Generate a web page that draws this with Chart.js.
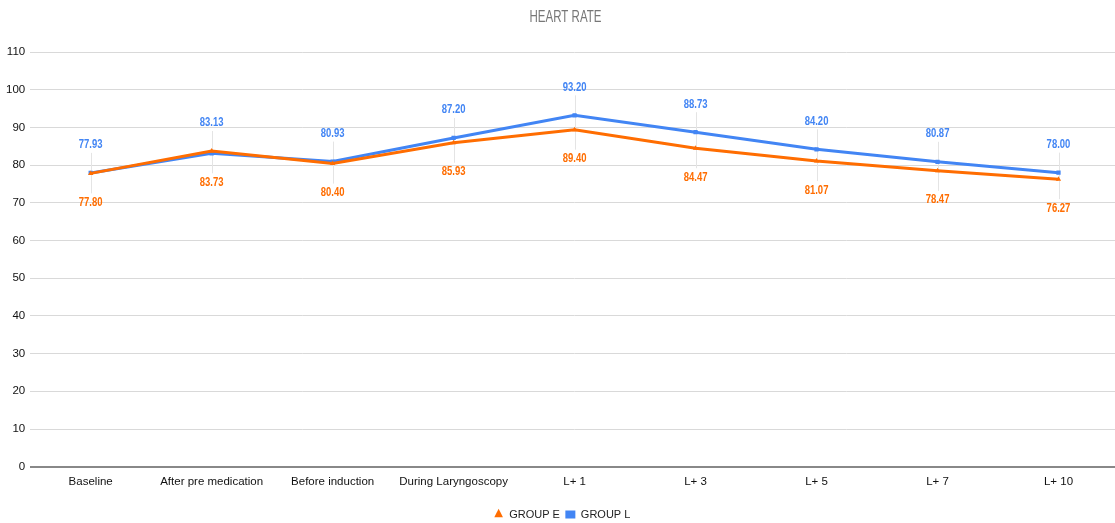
<!DOCTYPE html>
<html>
<head>
<meta charset="utf-8">
<script src="https://cdn.jsdelivr.net/npm/chart.js@4/dist/chart.umd.min.js"></script>
<style>
  html, body { margin: 0; padding: 0; background: #fff; overflow: hidden; }
  #wrap { width: 1123px; height: 523px; position: relative; }
</style>
</head>
<body>
<div id="wrap"><canvas id="c"></canvas></div>
<script>
const categories = ['Baseline', 'After pre medication', 'Before induction', 'During Laryngoscopy', 'L+ 1', 'L+ 3', 'L+ 5', 'L+ 7', 'L+ 10'];
const groupE = [77.80, 83.73, 80.40, 85.93, 89.40, 84.47, 81.07, 78.47, 76.27];
const groupL = [77.93, 83.13, 80.93, 87.20, 93.20, 88.73, 84.20, 80.87, 78.00];
const yTicks = [0, 10, 20, 30, 40, 50, 60, 70, 80, 90, 100, 110];
const chartTitle = 'HEART RATE';

const ORANGE = '#ff6d01';
const BLUE = '#4285f4';
const FONT = "'Liberation Sans', Arial, sans-serif";

// Draws text squeezed horizontally to get a narrow face
function narrowText(ctx, text, x, y, sx) {
  ctx.save();
  ctx.translate(x, y);
  ctx.scale(sx, 1);
  ctx.fillText(text, 0, 0);
  ctx.restore();
}

// Chart heading in a condensed light grey face
const heading = {
  id: 'heading',
  afterDraw(chart) {
    const ctx = chart.ctx;
    ctx.save();
    ctx.font = '16px ' + FONT;
    ctx.fillStyle = '#777';
    ctx.textAlign = 'center';
    ctx.textBaseline = 'middle';
    narrowText(ctx, chartTitle, chart.width / 2 + 4, 18, 0.72);
    ctx.restore();
  }
};

// Value labels: blue above the point, orange below, joined by a faint leader line
const valueLabels = {
  id: 'valueLabels',
  beforeDatasetsDraw(chart) {
    const ctx = chart.ctx;
    const mE = chart.getDatasetMeta(0).data;
    const mL = chart.getDatasetMeta(1).data;
    ctx.save();
    ctx.strokeStyle = '#e4e4e4';
    ctx.lineWidth = 1;
    for (let i = 0; i < mE.length; i++) {
      const x = mL[i].x;
      const top = Math.min(mE[i].y, mL[i].y) - 20;
      const bot = Math.max(mE[i].y, mL[i].y) + 20;
      ctx.beginPath();
      ctx.moveTo(Math.round(x) + 0.5, top);
      ctx.lineTo(Math.round(x) + 0.5, bot);
      ctx.stroke();
    }
    ctx.restore();
  },
  afterDatasetsDraw(chart) {
    const ctx = chart.ctx;
    const mE = chart.getDatasetMeta(0).data;
    const mL = chart.getDatasetMeta(1).data;
    ctx.save();
    ctx.font = 'bold 12.5px ' + FONT;
    ctx.textAlign = 'center';
    ctx.textBaseline = 'middle';
    for (let i = 0; i < mE.length; i++) {
      const yTop = Math.min(mE[i].y, mL[i].y);
      const yBot = Math.max(mE[i].y, mL[i].y);
      ctx.fillStyle = BLUE;
      narrowText(ctx, groupL[i].toFixed(2), mL[i].x, yTop - 28, 0.76);
      ctx.fillStyle = ORANGE;
      narrowText(ctx, groupE[i].toFixed(2), mE[i].x, yBot + 29, 0.76);
    }
    ctx.restore();
  }
};

// Legend sits close to the bottom edge
const legendShift = {
  id: 'legendShift',
  afterLayout(chart) {
    const lg = chart.legend;
    if (!lg) return;
    lg.top += 7; lg.bottom += 7;
  }
};

new Chart(document.getElementById('c'), {
  type: 'line',
  data: {
    labels: categories,
    datasets: [
      {
        label: 'GROUP E',
        data: groupE,
        borderColor: ORANGE,
        backgroundColor: ORANGE,
        borderWidth: 3,
        pointStyle: 'triangle',
        pointRadius: 3,
        pointBorderWidth: 0,
        tension: 0
      },
      {
        label: 'GROUP L',
        data: groupL,
        borderColor: BLUE,
        backgroundColor: BLUE,
        borderWidth: 3,
        pointStyle: 'rect',
        pointRadius: 3,
        pointBorderWidth: 0,
        tension: 0
      }
    ]
  },
  options: {
    responsive: true,
    maintainAspectRatio: false,
    animation: false,
    layout: { padding: { left: 1, right: 0, top: 52, bottom: 0 } },
    plugins: {
      title: { display: false },
      legend: {
        position: 'bottom',
        labels: {
          usePointStyle: true,
          pointStyleWidth: 10,
          boxHeight: 8,
          color: '#222',
          font: { family: FONT, size: 11 },
          padding: 5.5
        }
      },
      tooltip: { enabled: false }
    },
    scales: {
      x: {
        offset: true,
        grid: { display: false, drawTicks: false },
        border: { display: false },
        ticks: {
          color: '#111',
          font: { family: FONT, size: 11.5 },
          maxRotation: 0,
          autoSkip: false,
          padding: 8
        }
      },
      y: {
        min: 0,
        max: 110,
        afterBuildTicks(axis) { axis.ticks = yTicks.map(v => ({ value: v })); },
        grid: {
          color: ctx => ctx.tick && ctx.tick.value === 0 ? '#888' : '#d9d9d9',
          lineWidth: ctx => ctx.tick && ctx.tick.value === 0 ? 2 : 1,
          drawTicks: false
        },
        border: { display: false },
        ticks: {
          color: '#111',
          font: { family: FONT, size: 11.5 },
          padding: 5
        }
      }
    }
  },
  plugins: [valueLabels, legendShift, heading]
});
</script>
</body>
</html>
